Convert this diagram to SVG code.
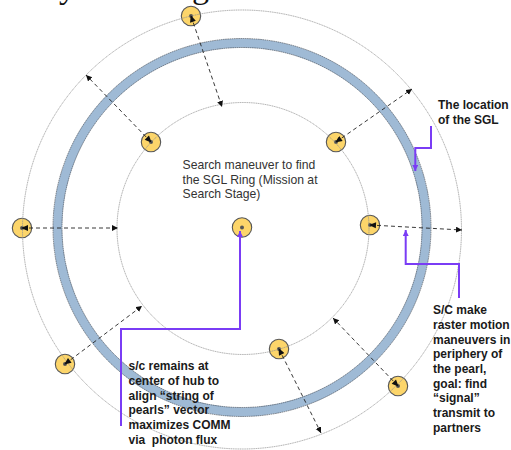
<svg xmlns="http://www.w3.org/2000/svg" width="511" height="450" viewBox="0 0 511 450">
<style>
.orbit{fill:none;stroke:#909090;stroke-width:.8;stroke-dasharray:1.2 .6}
.edge{fill:none;stroke:#3a4048;stroke-width:.6;stroke-dasharray:1.6 .6}
.pearl{fill:#fcd56a;stroke:#555;stroke-width:1.1}
.dot{fill:#555}
.arr{fill:none;stroke:#222;stroke-width:.9;stroke-dasharray:4 3;marker-end:url(#tip);marker-start:url(#back)}
.callh{fill:none;stroke:#7a3cf5;stroke-width:2;marker-end:url(#ptip)}
text{font-family:"Liberation Sans",Arial,sans-serif;fill:#1a1a1a;white-space:pre}
.b{font-weight:bold;font-size:12px}
.r{font-size:12.2px;fill:#333}
.s{font-family:"Liberation Serif","Times New Roman",serif;font-size:34px;fill:#111}
</style>
<defs>
<marker id="tip" markerUnits="userSpaceOnUse" markerWidth="8" markerHeight="8" refX="6" refY="3" orient="auto"><path d="M0 0L6 3L0 6Z" fill="#111"/></marker>
<marker id="back" markerUnits="userSpaceOnUse" markerWidth="10" markerHeight="8" refX="1" refY="3" orient="auto"><path d="M7 0L0 3L7 6Z" fill="#111"/></marker>
<marker id="ptip" markerUnits="userSpaceOnUse" markerWidth="8" markerHeight="8" refX="6" refY="3" orient="auto"><path d="M0 0L6 3L0 6Z" fill="#7a3cf5"/></marker>
</defs>
<rect width="511" height="450" fill="#fff"/>
<text class="s" x="59" y="-2">y</text>
<text class="s" x="192" y="-2">g</text>
<g id="sgl-ring">
<circle cx="242" cy="227.500" r="184.500" fill="none" stroke="#9fbad5" stroke-width="9"/>
<circle class="edge" cx="242" cy="227.500" r="189"/>
<circle class="edge" cx="242" cy="227.500" r="180"/>
</g>
<g id="pearl-top"><circle class="pearl" cx="191" cy="16" r="9.700"/><circle class="dot" cx="191" cy="16" r="2"/></g>
<g id="pearl-upper-left"><circle class="pearl" cx="151" cy="142" r="9.700"/><circle class="dot" cx="151" cy="142" r="2"/></g>
<g id="pearl-upper-right"><circle class="pearl" cx="336" cy="142" r="9.700"/><circle class="dot" cx="336" cy="142" r="2"/></g>
<g id="pearl-right"><circle class="pearl" cx="370" cy="225" r="9.700"/><circle class="dot" cx="370" cy="225" r="2"/></g>
<g id="pearl-left"><circle class="pearl" cx="22" cy="228" r="9.700"/><circle class="dot" cx="22" cy="228" r="2"/></g>
<g id="pearl-center"><circle class="pearl" cx="242" cy="227.500" r="9.700"/><circle class="dot" cx="242" cy="227.500" r="2"/></g>
<g id="pearl-lower-left"><circle class="pearl" cx="65" cy="364" r="9.700"/><circle class="dot" cx="65" cy="364" r="2"/></g>
<g id="pearl-bottom"><circle class="pearl" cx="279" cy="349" r="9.700"/><circle class="dot" cx="279" cy="349" r="2"/></g>
<g id="pearl-lower-right"><circle class="pearl" cx="398" cy="386" r="9.700"/><circle class="dot" cx="398" cy="386" r="2"/></g>
<g id="orbits">
<circle class="orbit" cx="242" cy="229.500" r="219.500"/>
<circle class="orbit" cx="243" cy="228.500" r="126"/>
</g>
<g id="connectors">
<path class="arr" d="M191 16L222 107"/>
<path class="arr" d="M151 142L86 75"/>
<path class="arr" d="M336 142L412 89"/>
<path class="arr" d="M370 225L462 230"/>
<path class="arr" d="M22 228L118 228"/>
<path class="arr" d="M65 364L142 306"/>
<path class="arr" d="M279 349L321 433"/>
<path class="arr" d="M398 386L333 318"/>
<path class="callh" d="M431 126V148H415.300V171"/>
<path class="callh" d="M459 298V264H405.700V230"/>
<path class="callh" d="M121 426V329H240V231"/>
</g>
<g id="label-search">
<text class="r" x="182.500" y="169">Search maneuver to find</text>
<text class="r" x="182.500" y="183.500">the SGL Ring (Mission at</text>
<text class="r" x="182.500" y="198">Search Stage)</text>
</g>
<g id="label-location">
<text class="b" x="438" y="109">The location</text>
<text class="b" x="438" y="124">of the SGL</text>
</g>
<g id="label-raster">
<text class="b" x="433" y="314">S/C make</text>
<text class="b" x="433" y="329">raster motion</text>
<text class="b" x="433" y="343.500">maneuvers in</text>
<text class="b" x="433" y="358">periphery of</text>
<text class="b" x="433" y="373">the pearl,</text>
<text class="b" x="433" y="387.500">goal: find</text>
<text class="b" x="433" y="402">“signal”</text>
<text class="b" x="433" y="417">transmit to</text>
<text class="b" x="433" y="431.500">partners</text>
</g>
<g id="label-hub">
<text class="b" x="128.500" y="370">s/c remains at</text>
<text class="b" x="128.500" y="385">center of hub to</text>
<text class="b" x="128.500" y="399.500">align “string of</text>
<text class="b" x="128.500" y="414">pearls” vector</text>
<text class="b" x="128.500" y="429">maximizes COMM</text>
<text class="b" x="128.500" y="444">via  photon flux</text>
</g>
</svg>
